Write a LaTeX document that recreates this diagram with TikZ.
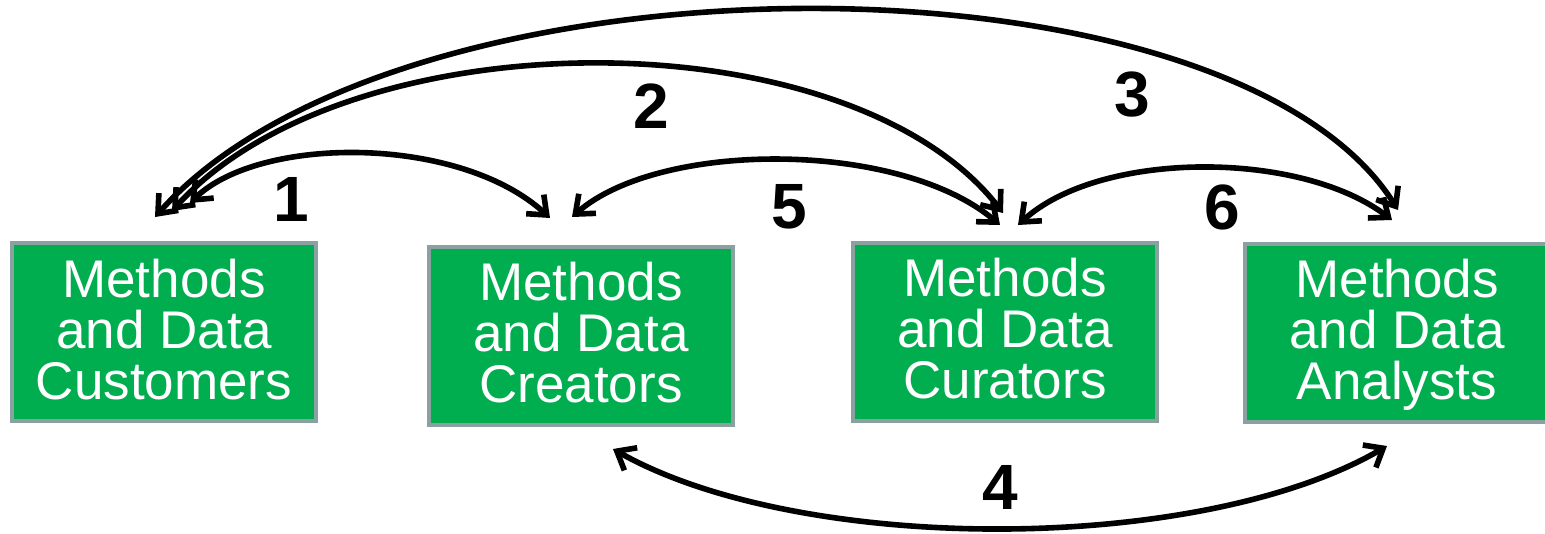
\documentclass[tikz,border=0pt]{standalone}
\usepackage{fontspec}
\setmainfont{Liberation Sans}
\usetikzlibrary{arrows.meta}
\definecolor{boxgreen}{RGB}{0,173,79}
\definecolor{boxedge}{RGB}{139,160,160}
\begin{document}
\begin{tikzpicture}[x=0.5pt,y=-0.5pt,
  role/.style={draw=boxedge, line width=2pt, fill=boxgreen, text=white,
    font=\fontsize{26.5}{25.5}\selectfont, align=center,
    text height=67pt, text depth=0pt,
    minimum width=152pt, minimum height=89pt, inner sep=0pt},
  link/.style={line width=2.8pt,
    {Straight Barb[length=8pt,width=13pt]}-{Straight Barb[length=8pt,width=13pt]}},
  num/.style={font=\fontsize{32}{36}\selectfont\bfseries, inner sep=0pt}]
\clip (0,0) rectangle (1545,534);

% the four roles
\node[role] (cust) at (164,332) {Methods\\and Data\\Customers};
\node[role] (crea) at (581,335.5) {Methods\\and Data\\Creators};
\node[role] (cura) at (1005,331.5) {Methods\\and Data\\Curators};
\node[role] (anal) at (1397,332.5) {Methods\\and Data\\Analysts};

% arrow ends above and below the boxes
\coordinate (cust1) at (190,203);
\coordinate (cust2) at (172,211);
\coordinate (cust3) at (155,217);
\coordinate (crea1) at (550,218);
\coordinate (crea5) at (572,217);
\coordinate (crea4) at (613,449);
\coordinate (cura2) at (1003,213);
\coordinate (cura5) at (1000,225);
\coordinate (cura6) at (1018,225);
\coordinate (anal3) at (1398,210);
\coordinate (anal6) at (1392,220);
\coordinate (anal4) at (1387,446);

% relations
\draw[link] (cust1) .. controls (260,135) and (460,135) .. (crea1);
\draw[link] (cust2) .. controls (350,15) and (850,15) .. (cura2);
\draw[link] (cust3) .. controls (400,-58) and (1230,-58) .. (anal3);
\draw[link] (crea4) .. controls (800,555) and (1200,555) .. (anal4);
\draw[link] (crea5) .. controls (660,140) and (900,140) .. (cura5);
\draw[link] (cura6) .. controls (1100,150) and (1300,150) .. (anal6);

% relation numbers
\node[num] (n1) at (291,199) {1};
\node[num] (n2) at (651,106) {2};
\node[num] (n3) at (1132,95) {3};
\node[num] (n4) at (1000,487) {4};
\node[num] (n5) at (789,207) {5};
\node[num] (n6) at (1222,207) {6};
\end{tikzpicture}
\end{document}
